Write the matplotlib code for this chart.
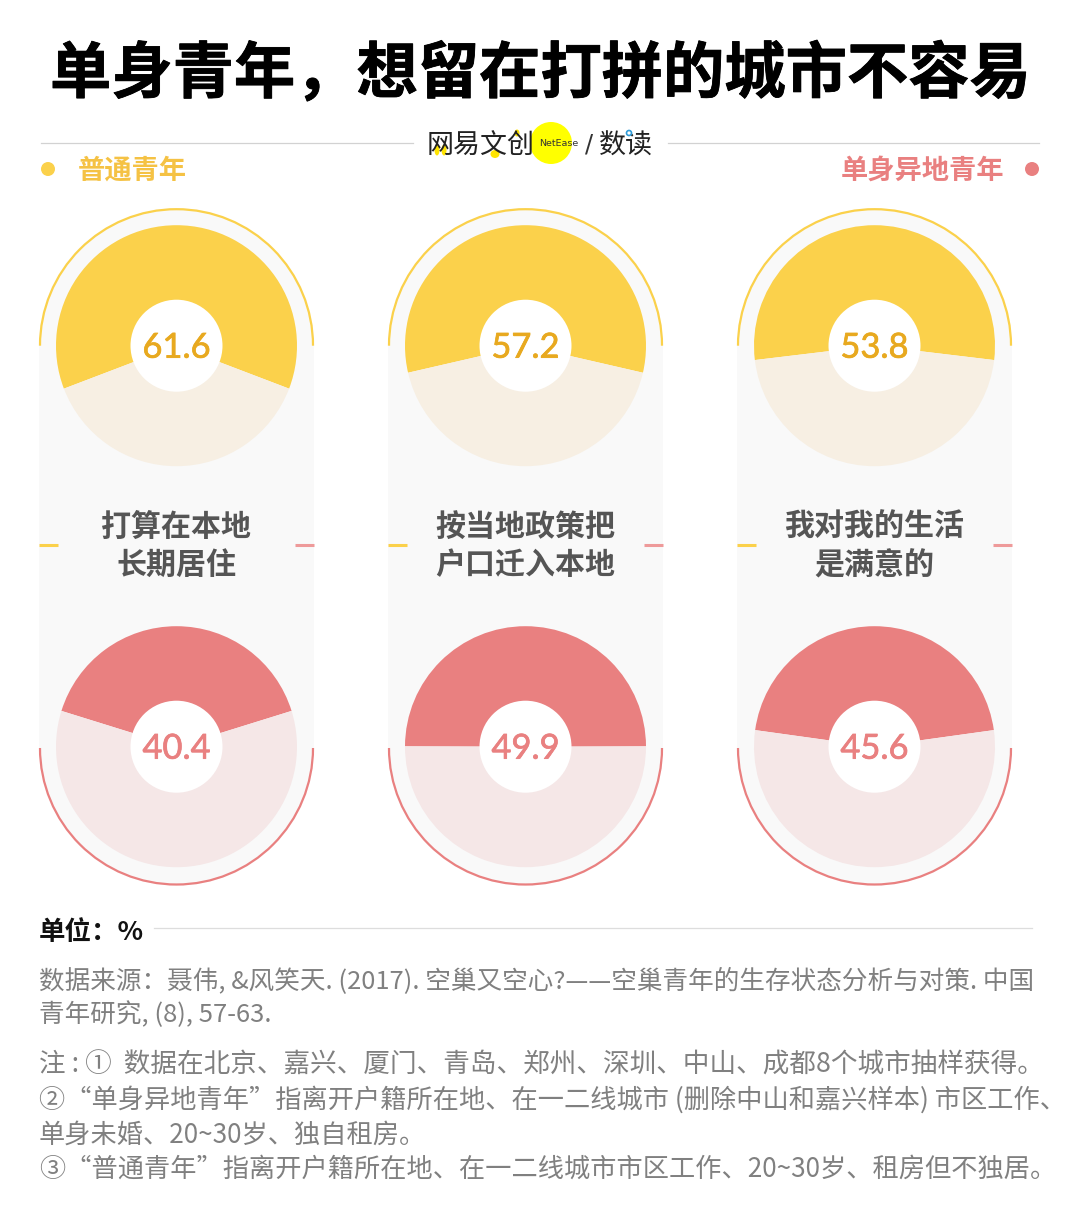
import matplotlib
matplotlib.use('Agg')
import matplotlib.pyplot as plt
from matplotlib.patches import Circle, Rectangle, Arc, Ellipse
import matplotlib.patheffects as pe

plt.rcParams['font.family'] = ['Noto Sans CJK SC', 'DejaVu Sans']

W = 1080
H = 1216

# data
questions = ['打算在本地\n长期居住', '按当地政策把\n户口迁入本地', '我对我的生活\n是满意的']
normal_vals = [61.6, 57.2, 53.8]
single_vals = [40.4, 49.9, 45.6]
legend_names = ['普通青年', '单身异地青年']
title = '单身青年，想留在打拼的城市不容易'
unit = '单位：%'
source_lines = ['数据来源：聂伟, &风笑天. (2017). 空巢又空心?——空巢青年的生存状态分析与对策. 中国',
                '青年研究, (8), 57-63.']
note_lines = ['注 : ①  数据在北京、嘉兴、厦门、青岛、郑州、深圳、中山、成都8个城市抽样获得。',
              '②“单身异地青年”指离开户籍所在地、在一二线城市 (删除中山和嘉兴样本) 市区工作、',
              '单身未婚、20~30岁、独自租房。',
              '③“普通青年”指离开户籍所在地、在一二线城市市区工作、20~30岁、租房但不独居。']

# colours
yellow = '#FBD14B'
yellow_pale = '#F7EFE3'
yellow_text = '#E8A91F'
pink = '#E98080'
pink_pale = '#F5E7E7'
panel = '#F9F9F9'

centers_x = [176.5, 525.5, 874.5]
top_y = H - 345.7
bot_y = H - 746.7
arc_bot_y = H - 748
R_out = 137.5
R_pie = 120.5
R_hole = 46

fig = plt.figure(figsize=(W / 100, H / 100), dpi=100, facecolor='white')
ax = fig.add_axes([0, 0, 1, 1])


def px(size):
    return size * 0.72


def draw_pie(cx, cy, val, col, pale):
    # filled part is centred on 12 o'clock
    ax.pie([val, 100 - val], colors=[col, pale], center=(cx, cy), radius=R_pie,
           startangle=90 - val / 100 * 180, frame=True)
    ax.add_patch(Circle((cx, cy), R_hole, fc='white', ec='none', zorder=5))


for i in range(3):
    cx = centers_x[i]
    # grey pill
    ax.add_patch(Circle((cx, top_y), R_out, fc=panel, ec='none', zorder=0))
    ax.add_patch(Circle((cx, arc_bot_y), R_out, fc=panel, ec='none', zorder=0))
    ax.add_patch(Rectangle((cx - R_out, arc_bot_y), 2 * R_out, top_y - arc_bot_y, fc=panel, ec='none', zorder=0))
    ax.add_patch(Arc((cx, top_y), 2 * R_out - 2, 2 * R_out - 2, theta1=0, theta2=180, ec=yellow, lw=1.6, zorder=1))
    ax.add_patch(Arc((cx, arc_bot_y), 2 * R_out - 2, 2 * R_out - 2, theta1=180, theta2=360, ec=pink, lw=1.6, zorder=1))

    draw_pie(cx, top_y, normal_vals[i], yellow, yellow_pale)
    draw_pie(cx, bot_y, single_vals[i], pink, pink_pale)

    ax.text(cx, top_y - 2, '%.1f' % normal_vals[i], family='Lato', fontsize=px(34.5), color=yellow_text,
            ha='center', va='center', zorder=6,
            path_effects=[pe.withStroke(linewidth=0.5, foreground=yellow_text)])
    ax.text(cx, bot_y - 2, '%.1f' % single_vals[i], family='Lato', fontsize=px(34.5), color=pink,
            ha='center', va='center', zorder=6,
            path_effects=[pe.withStroke(linewidth=0.5, foreground=pink)])

    ax.text(cx, H - 546, questions[i], fontsize=px(30), fontweight='bold', color='#555555',
            ha='center', va='center', linespacing=1.34, zorder=6)
    ax.plot([cx - R_out, cx - R_out + 19], [H - 545, H - 545], color=yellow, lw=2.2, solid_capstyle='butt')
    ax.plot([cx + R_out - 19, cx + R_out], [H - 545, H - 545], color='#EE9A9A', lw=2.2, solid_capstyle='butt')

# title
ax.text(540, H - 75, title, fontsize=px(61.3), fontweight='bold', color='black', ha='center', va='center',
        path_effects=[pe.withStroke(linewidth=0.6, foreground='black')])

# header rules and logo
ax.plot([41, 413], [H - 143, H - 143], color='#D2D2D2', lw=0.9)
ax.plot([668, 1039], [H - 143, H - 143], color='#D2D2D2', lw=0.9)
ax.add_patch(Circle((551, H - 143), 21, fc='#FFFF00', ec='none', zorder=2))
# little yellow fills inside the logo strokes
for lx, ly, lw_, lh_ in [(437, 150, 5, 11), (444, 150, 5, 11), (495, 154, 9, 8), (517, 133, 5, 7)]:
    ax.add_patch(Ellipse((lx, H - ly), lw_, lh_, fc='#FFE400', ec='none', zorder=2))
ax.text(480.5, H - 146, '网易文创', fontsize=px(27), color='#222222', ha='center', va='center', zorder=3)
ax.text(558.5, H - 144, 'NetEase', family='DejaVu Sans', fontsize=px(9.5), color='#333333',
        ha='center', va='center', zorder=3)
ax.text(589, H - 144, '/', family='DejaVu Sans', fontsize=px(24), color='#333333', ha='center', va='center')
ax.text(626, H - 146, '数读', fontsize=px(27), color='#222222', ha='center', va='center', zorder=3)
ax.add_patch(Circle((629, H - 133), 2.5, fc='white', ec='#2F9BD8', lw=1.2, zorder=4))

# legend
ax.add_patch(Circle((48, H - 169), 7, fc=yellow, ec='none'))
ax.add_patch(Circle((1032, H - 169), 7, fc=pink, ec='none'))
ax.text(78, H - 171, legend_names[0], fontsize=px(27.3), fontweight='bold', color='#F5C244', ha='left', va='center')
ax.text(1004, H - 171, legend_names[1], fontsize=px(27.3), fontweight='bold', color=pink, ha='right', va='center')

# footer
ax.text(39, H - 932, unit, fontsize=px(26.5), fontweight='bold', color='#111111', ha='left', va='center')
ax.plot([154, 1032], [H - 928, H - 928], color='#DDDDDD', lw=0.9)
for y, line in zip([981, 1015], source_lines):
    ax.text(39, H - y, line, fontsize=px(25.6), color='#808080', ha='left', va='center')
for y, line, fs in zip([1065, 1100, 1135, 1169], note_lines, [26.6, 26.2, 26.2, 26.2]):
    ax.text(39, H - y, line, fontsize=px(fs), color='#808080', ha='left', va='center')

ax.set_xlim(0, W)
ax.set_ylim(0, H)
ax.set_aspect('auto')
ax.axis('off')

fig.savefig('out.png', dpi=100, facecolor='white')
